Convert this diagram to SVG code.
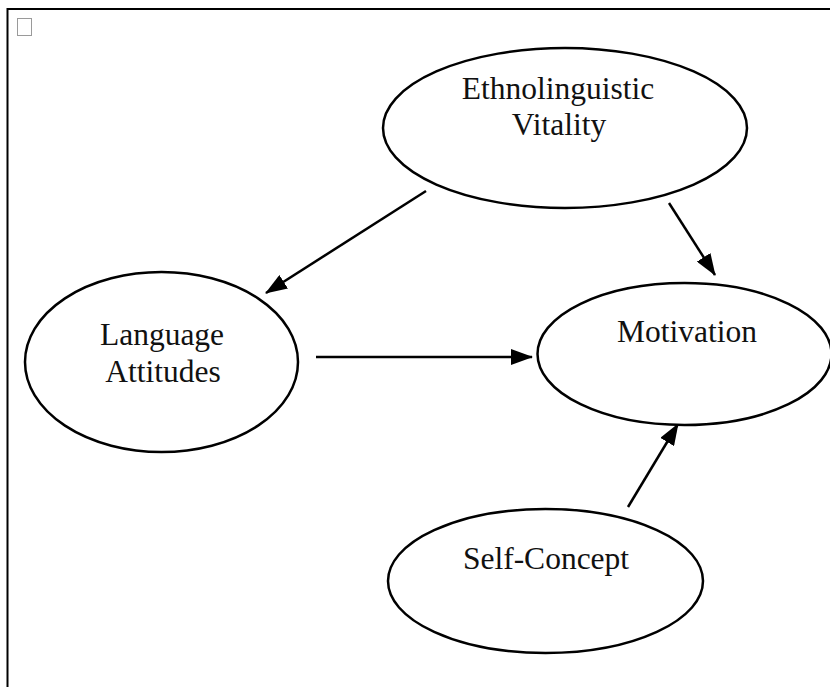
<svg xmlns="http://www.w3.org/2000/svg" width="830" height="687" viewBox="0 0 830 687">
  <style>
    .node { fill: #fff; stroke: #000; stroke-width: 2.5; }
    .label { font-family: "Liberation Serif", "Times New Roman", serif; font-size: 31.5px; fill: #111; text-anchor: middle; }
    .edge { stroke: #000; stroke-width: 2.5; fill: none; marker-end: url(#head); }
  </style>
  <defs>
    <marker id="head" markerUnits="userSpaceOnUse" markerWidth="22" markerHeight="16" refX="21" refY="8" orient="auto">
      <path d="M0,0 L22,8 L0,16 Z" fill="#000"/>
    </marker>
  </defs>

  <!-- page frame and anchor box -->
  <path d="M7.5,687 V9 H830" fill="none" stroke="#000" stroke-width="2"/>
  <rect x="17.5" y="18.5" width="14" height="17" fill="#fff" stroke="#9a9a9a" stroke-width="1"/>

  <g id="connectors">
    <line class="edge" x1="426" y1="191" x2="266" y2="293"/>
    <line class="edge" x1="669" y1="203" x2="715" y2="275"/>
    <line class="edge" x1="316" y1="357" x2="532" y2="357"/>
    <line class="edge" x1="628" y1="507" x2="678" y2="424"/>
  </g>

  <g id="ethnolinguistic-vitality">
    <ellipse class="node" cx="565" cy="128" rx="182" ry="80"/>
    <text class="label" x="558" y="99">Ethnolinguistic</text>
    <text class="label" x="559" y="135">Vitality</text>
  </g>

  <g id="language-attitudes">
    <ellipse class="node" cx="161.5" cy="362" rx="136.5" ry="90"/>
    <text class="label" x="162" y="345">Language</text>
    <text class="label" x="163" y="382">Attitudes</text>
  </g>

  <g id="motivation">
    <ellipse class="node" cx="684.5" cy="354" rx="147" ry="71"/>
    <text class="label" x="687" y="342">Motivation</text>
  </g>

  <g id="self-concept">
    <ellipse class="node" cx="545.5" cy="581" rx="157.5" ry="72"/>
    <text class="label" x="546" y="569">Self-Concept</text>
  </g>
</svg>
